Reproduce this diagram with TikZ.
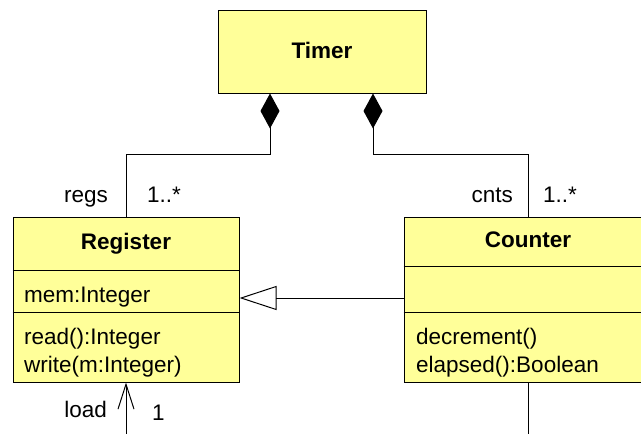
\documentclass[tikz,border=0pt]{standalone}
\usepackage{fontspec}
\setmainfont{Liberation Sans}
\usetikzlibrary{arrows.meta}
\definecolor{umlfill}{RGB}{255,255,153}
\tikzset{
  cls/.style={draw=black, fill=umlfill, line width=1pt, inner sep=0pt},
  txt/.style={inner sep=0pt, font=\fontsize{22.5}{28}\selectfont},
  conn/.style={draw=black, line width=1pt},
}
\begin{document}
\begin{tikzpicture}[x=1pt,y=-1pt]
\useasboundingbox (0,0) rectangle (641,434);
% classes
\node[cls, minimum width=208pt, minimum height=83pt] (timer) at (322,51.5) {};
\node[txt, anchor=base, font=\fontsize{22.5}{28}\selectfont\bfseries] (timerT) at (322,58.7) {Timer};

\node[cls, minimum width=226pt, minimum height=165pt] (reg) at (126,299.5) {};
\draw[conn] (reg.west |- 0,270) -- (reg.east |- 0,270);
\draw[conn] (reg.west |- 0,312) -- (reg.east |- 0,312);
\node[txt, anchor=base, font=\fontsize{22.5}{28}\selectfont\bfseries] (regT) at (126,249) {Register};
\node[txt, anchor=base west] (regA) at (24,302.7) {mem:Integer};
\node[txt, anchor=base west] (regO1) at (24,344) {read():Integer};
\node[txt, anchor=base west] (regO2) at (24,372.7) {write(m:Integer)};

\node[cls, minimum width=248pt, minimum height=165pt] (cnt) at (528,299.5) {};
\draw[conn] (cnt.west |- 0,266) -- (cnt.east |- 0,266);
\draw[conn] (cnt.west |- 0,312) -- (cnt.east |- 0,312);
\node[txt, anchor=base, font=\fontsize{22.5}{28}\selectfont\bfseries] (cntT) at (528,247.7) {Counter};
\node[txt, anchor=base west] (cntO1) at (416,344) {decrement()};
\node[txt, anchor=base west] (cntO2) at (416,372.7) {elapsed():Boolean};

% compositions
\coordinate (lb) at (270,154);
\coordinate (rb) at (373,154);
\draw[conn, {Diamond[length=35pt,width=19pt,fill=black]}-] (timer.south -| lb) -- (lb) -| (reg.north);
\draw[conn, {Diamond[length=35pt,width=19pt,fill=black]}-] (timer.south -| rb) -- (rb) -| (cnt.north);

% generalization
\draw[conn, -{Triangle[open,length=37pt,width=24pt]}] (cnt.west |- 0,298) -- (reg.east |- 0,298);

% bottom associations
\coordinate (lbot) at (126,434);
\coordinate (cbot) at (528,434);
\draw[conn, -{Straight Barb[length=25pt,width=16pt]}] (lbot) -- (reg.south);
\draw[conn] (cnt.south) -- (cbot);

% labels
\node[txt, anchor=base east] (lregs) at (108,202) {regs};
\node[txt, anchor=base west] (lregm) at (147,202) {1..*};
\node[txt, anchor=base east] (lcnts) at (513,202) {cnts};
\node[txt, anchor=base west] (lcntm) at (543,202) {1..*};
\node[txt, anchor=base east] (lload) at (107,417) {load};
\node[txt, anchor=base west] (lone) at (152,420.7) {1};
\end{tikzpicture}
\end{document}
